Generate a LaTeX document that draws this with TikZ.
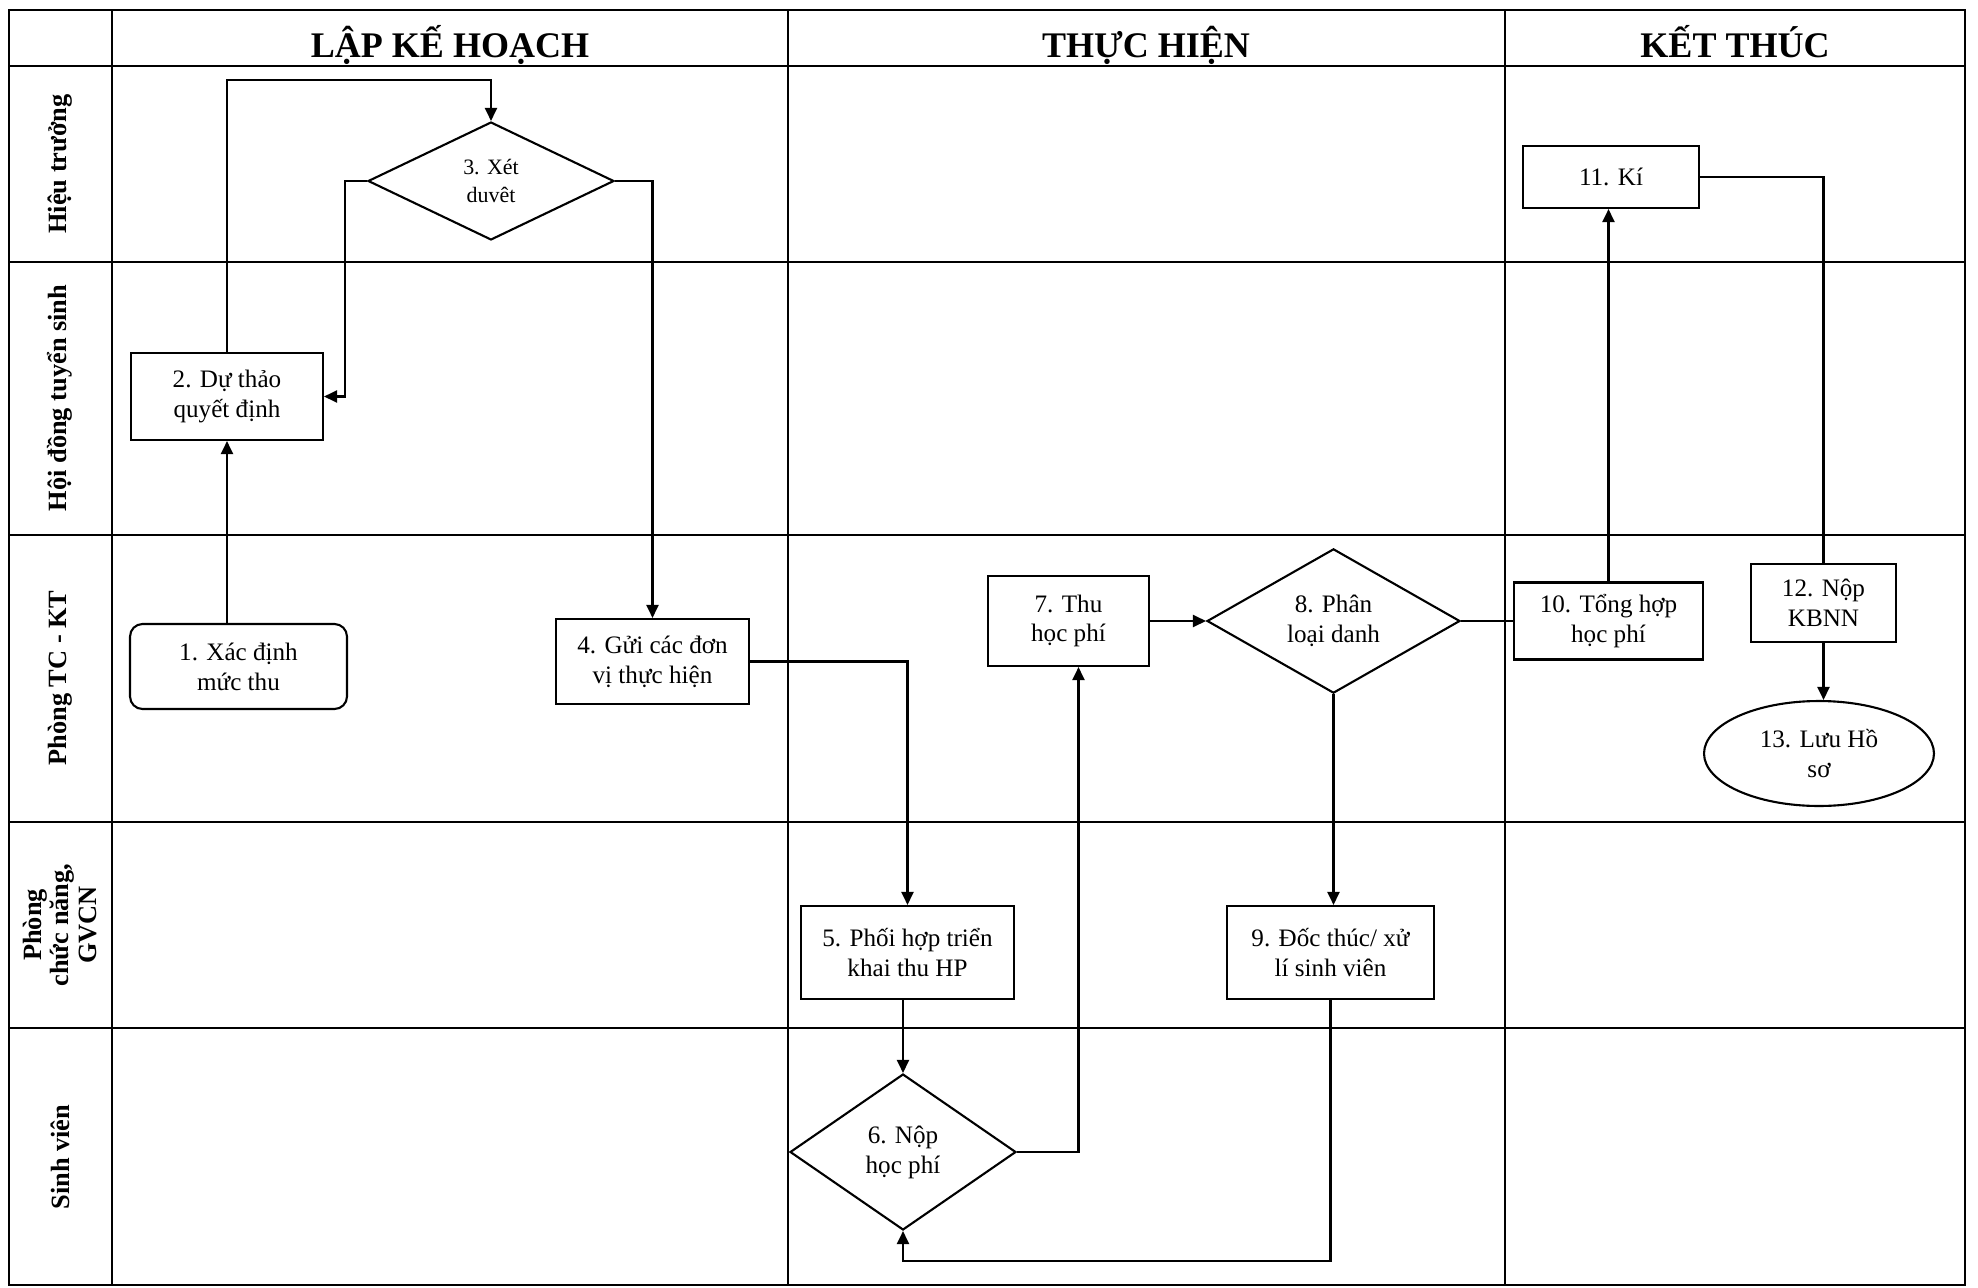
\documentclass[tikz,border=0pt]{standalone}
\usepackage{fontspec}
\setmainfont{Liberation Serif}
\usepackage{tikz}
\usetikzlibrary{shapes,arrows.meta}

\begin{document}
\begin{tikzpicture}[x=0.02cm, y=-0.02cm, line width=1.2pt, >={Triangle[length=0.26cm,width=0.24cm]},
	box/.style={draw, rectangle, align=center, inner sep=0pt, font=\fontsize{14.3}{17}\selectfont},
	rbox/.style={box, rounded corners=0.25cm},
	dec/.style={draw, diamond, align=center, inner sep=0pt, font=\fontsize{14.3}{17}\selectfont},
	term/.style={draw, ellipse, align=center, inner sep=0pt, font=\fontsize{14.3}{17}\selectfont},
	lane/.style={rotate=90, align=center, font=\bfseries\fontsize{15}{15.5}\selectfont},
	phase/.style={anchor=base, font=\bfseries\fontsize{20.5}{24}\selectfont}]
				      \useasboundingbox (0,0) rectangle (1978,1288);
				      \draw (9,10) rectangle (1965,1285);
				      \draw (112,10) -- (112,1285);
				      \draw (788,10) -- (788,1285);
				      \draw (1505,10) -- (1505,1285);
				      \draw (9,66) -- (1965,66);
				      \draw (9,262) -- (1965,262);
				      \draw (9,535) -- (1965,535);
				      \draw (9,822) -- (1965,822);
				      \draw (9,1028) -- (1965,1028);
				      \node[phase] (hdplan) at (450,57) {LẬP KẾ HOẠCH};
				      \node[phase] (hdexec) at (1146,57) {THỰC HIỆN};
				      \node[phase] (hdend) at (1735,57) {KẾT THÚC};
				      \node[lane] (lnhieu) at (60,164) {Hiệu trưởng};
				      \node[lane] (lnhoidong) at (60,398) {Hội đồng tuyển sinh};
				      \node[lane] (lntckt) at (60,678) {Phòng TC - KT};
				      \node[lane] (lnphong) at (60,925) {Phòng\\chức năng,\\GVCN};
				      \node[lane] (lnsv) at (60,1157) {Sinh viên};
				      \node[rbox, minimum width=4.34cm, minimum height=1.7cm] (xacdinh) at (238.5,666.5) {1. Xác định\\mức thu};
				      \node[box, minimum width=3.84cm, minimum height=1.74cm] (duthao) at (227,396.5) {2. Dự thảo\\quyết định};
				      \node[dec, minimum width=4.92cm, minimum height=2.36cm, font=\fontsize{12.5}{15.5}\selectfont] (xetduyet) at (491,181) {3. Xét\\duvêt};
				      \node[box, minimum width=3.86cm, minimum height=1.7cm] (guidonvi) at (652.5,661.5) {4. Gửi các đơn\\vị thực hiện};
				      \node[box, minimum width=4.26cm, minimum height=1.86cm] (phoihop) at (907.5,952.5) {5. Phối hợp triển\\khai thu HP};
				      \node[dec, minimum width=4.52cm, minimum height=3.12cm] (nophp) at (903,1152) {6. Nộp\\học phí};
				      \node[box, minimum width=3.22cm, minimum height=1.8cm] (thuhp) at (1068.5,621) {7. Thu\\học phí};
				      \node[dec, minimum width=5.06cm, minimum height=2.72cm] (phanloai) at (1333.5,621) {8. Phân\\loại danh};
				      \node[box, minimum width=4.14cm, minimum height=1.86cm] (docthuc) at (1330.5,952.5) {9. Đốc thúc/ xử\\lí sinh viên};
				      \node[box, minimum width=3.78cm, minimum height=1.54cm] (tonghop) at (1608.5,621) {10. Tổng hợp\\học phí};
				      \node[box, minimum width=3.52cm, minimum height=1.24cm] (ki) at (1611,177) {11. Kí};
				      \node[box, minimum width=2.9cm, minimum height=1.56cm] (nopkbnn) at (1823.5,603) {12. Nộp\\KBNN};
				      \node[term, minimum width=4.6cm, minimum height=2.1cm] (luuhs) at (1819,753.5) {13. Lưu Hồ\\sơ};
				      \draw[->] (duthao.south |- xacdinh.north) -- (duthao.south);
				      \draw[->] (duthao.north) -- ++(0,-272) -| (xetduyet.north);
				      \draw[->] (xetduyet.west) -- ++(-22,0) |- (duthao.east);
				      \draw[->] (xetduyet.east) -| (guidonvi.north);
				      \draw[->] (guidonvi.east) -| (phoihop.north);
				      \draw[->] (phoihop.south -| nophp.north) -- (nophp.north);
				      \draw[->] (nophp.east) -| ([xshift=0.2cm]thuhp.south);
				      \draw[->] (thuhp.east) -- (phanloai.west);
				      \draw[->] (phanloai.south) -- (phanloai.south |- docthuc.north);
				      \draw (phanloai.east) -- (tonghop.west);
				      \draw[->] (tonghop.north) -- (tonghop.north |- ki.south);
				      \draw (ki.east) -| (nopkbnn.north);
				      \draw[->] (nopkbnn.south) -- (nopkbnn.south |- luuhs.north);
				      \draw[->] (docthuc.south) -- ++(0,261) -| (nophp.south);
			      \end{tikzpicture}
\end{document}
